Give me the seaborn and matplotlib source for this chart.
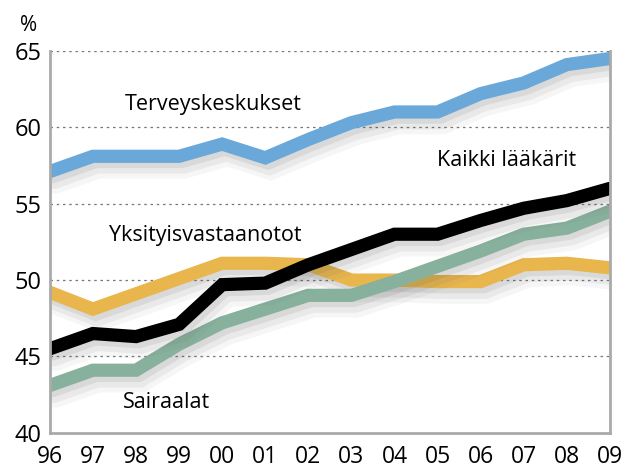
import numpy as np
import pandas as pd
import matplotlib
matplotlib.use("Agg")
import matplotlib.pyplot as plt
import matplotlib.patheffects as pe
import seaborn as sns

# years and series values (percent)
years = ["96", "97", "98", "99", "00", "01", "02", "03", "04", "05", "06", "07", "08", "09"]
terveyskeskukset = [57.1, 58.1, 58.1, 58.1, 58.9, 58.0, 59.2, 60.3, 61.0, 61.0, 62.2, 62.9, 64.1, 64.5]
kaikki_laakarit = [45.5, 46.5, 46.3, 47.1, 49.7, 49.8, 51.0, 52.0, 53.0, 53.0, 53.9, 54.7, 55.2, 56.0]
yksityisvastaanotot = [49.2, 48.1, 49.1, 50.1, 51.1, 51.1, 51.0, 50.0, 50.0, 49.9, 49.9, 51.0, 51.1, 50.8]
sairaalat = [43.1, 44.1, 44.1, 45.8, 47.2, 48.1, 49.0, 49.0, 49.9, 50.9, 51.9, 53.0, 53.4, 54.5]

series = {
    "Yksityisvastaanotot": yksityisvastaanotot,
    "Sairaalat": sairaalat,
    "Kaikki lääkärit": kaikki_laakarit,
    "Terveyskeskukset": terveyskeskukset,
}
colors = {
    "Yksityisvastaanotot": "#E8B64C",
    "Sairaalat": "#88B19D",
    "Kaikki lääkärit": "#000000",
    "Terveyskeskukset": "#69A8D8",
}

df = pd.concat(
    [pd.DataFrame({"x": np.arange(len(years)), "value": v, "series": k}) for k, v in series.items()],
    ignore_index=True,
)

sns.set_style("white")
plt.rcParams["font.family"] = ["Open Sans", "DejaVu Sans"]

fig = plt.figure(figsize=(6.23, 4.71), dpi=100)
ax = fig.add_axes([0.080, 0.081, 0.899, 0.811])

for gridval in [45, 50, 55, 60, 65]:
    ax.axhline(gridval, color="#777777", lw=0.9, ls=(0, (2, 3)), zorder=0)

# soft drop shadow built from a few faint layers
shadow = [pe.SimpleLineShadow(offset=(2, -3), shadow_color="#555555", alpha=0.10, linewidth=11),
          pe.SimpleLineShadow(offset=(3, -6), shadow_color="#555555", alpha=0.08, linewidth=13),
          pe.SimpleLineShadow(offset=(4, -8), shadow_color="#555555", alpha=0.05, linewidth=16),
          pe.Normal()]

for name in series:
    sns.lineplot(data=df[df["series"] == name], x="x", y="value", color=colors[name],
                 lw=9.5, ax=ax, legend=False, solid_joinstyle="miter", path_effects=shadow)

ax.set_xlim(0, len(years) - 1)
ax.set_ylim(40, 65)
ax.set_xticks(np.arange(len(years)))
ax.set_xticklabels(years)
ax.set_yticks([40, 45, 50, 55, 60, 65])
ax.tick_params(axis="x", labelsize=16.5, pad=9, length=0, labelcolor="black")
ax.tick_params(axis="y", labelsize=17, pad=6, length=0, labelcolor="black")
ax.set_xlabel("")
ax.set_ylabel("")

for side in ["left", "bottom", "right"]:
    ax.spines[side].set_color("#AAAAAA")
    ax.spines[side].set_linewidth(2)
ax.spines["top"].set_visible(False)

fig.text(0.032, 0.945, "%", fontsize=15, ha="left", va="center", color="black")

ax.text(3.8, 61.5, "Terveyskeskukset", fontsize=15.5, ha="center", va="center", color="black")
ax.text(10.6, 57.8, "Kaikki lääkärit", fontsize=15.5, ha="center", va="center", color="black")
ax.text(3.6, 52.9, "Yksityisvastaanotot", fontsize=15.5, ha="center", va="center", color="black")
ax.text(2.7, 42.0, "Sairaalat", fontsize=15.5, ha="center", va="center", color="black")

fig.savefig("out.png", dpi=100)
